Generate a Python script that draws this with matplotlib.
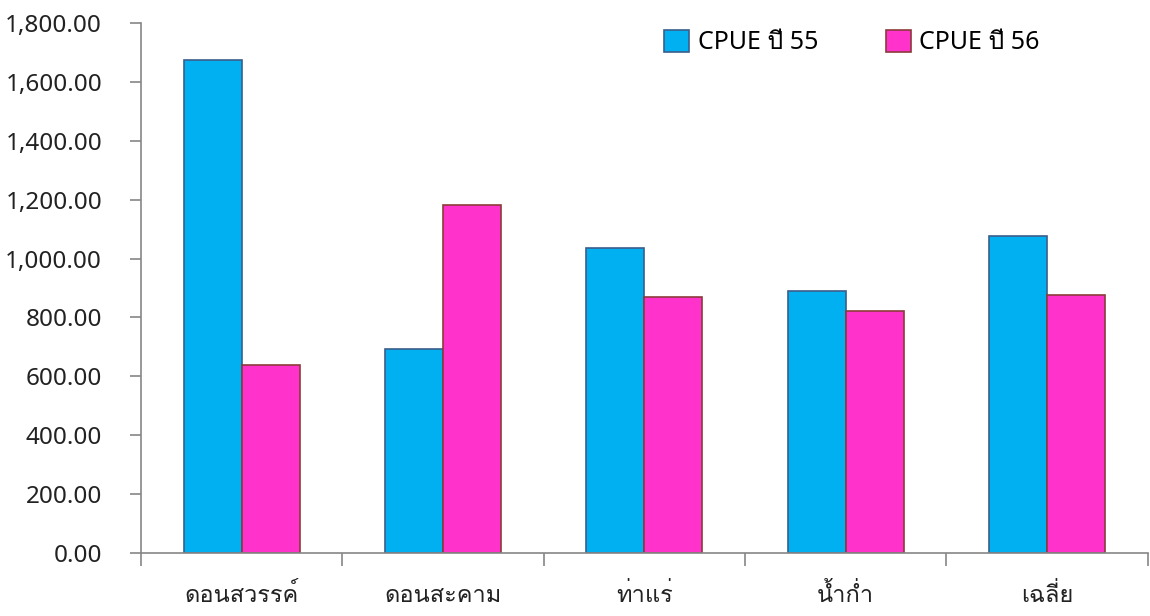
import numpy as np
import matplotlib
matplotlib.use("Agg")
import matplotlib.pyplot as plt
from matplotlib import font_manager
from matplotlib.ft2font import FT2Font
from matplotlib.ticker import FuncFormatter, FixedLocator

# data
categories = ["ดอนสวรรค์", "ดอนสะคาม", "ท่าแร่", "น้ำก่ำ", "เฉลี่ย"]
cpue_55 = [1675, 693, 1035, 890, 1075]
cpue_56 = [638, 1183, 870, 822, 877]
series_labels = ["CPUE ปี 55", "CPUE ปี 56"]
yticks = np.arange(0, 1801, 200)

# find an installed font that has Thai glyphs
thai_font = None
for f in font_manager.fontManager.ttflist:
  try:
    if 0x0E14 in FT2Font(f.fname).get_charmap():
      thai_font = f.name
      break
  except Exception:
    pass
families = ["Noto Sans", "DejaVu Sans"]
if thai_font:
  families = ["Noto Sans", thai_font, "DejaVu Sans"]
plt.rcParams["font.family"] = families

fig = plt.figure(figsize=(11.5, 6.16), dpi=100)
ax = fig.add_axes([0.1226, 0.1023, 0.8754, 0.8604])

x = np.arange(len(categories))
w = 0.288
ax.bar(x - w / 2, cpue_55, w, color="#00B0F0", edgecolor="#3B5E8C", linewidth=1.2, label=series_labels[0])
ax.bar(x + w / 2, cpue_56, w, color="#FF33CC", edgecolor="#8C3A3A", linewidth=1.2, label=series_labels[1])

ax.set_xlim(-0.5, len(categories) - 0.5)
ax.set_ylim(0, 1800)
ax.set_yticks(yticks)
ax.yaxis.set_major_formatter(FuncFormatter(lambda v, p: f"{v:,.2f}"))

ax.set_xticks(x)
ax.set_xticklabels(categories)
ax.xaxis.set_minor_locator(FixedLocator(np.arange(len(categories) + 1) - 0.5))
ax.tick_params(axis="x", which="major", length=0, pad=22, labelsize=17, colors="#222222")
ax.tick_params(axis="x", which="minor", length=9, width=1.2, color="#868686")
ax.tick_params(axis="y", length=8, width=1.2, color="#868686", labelsize=17.5, labelcolor="#222222", pad=20)

for s in ["top", "right"]:
  ax.spines[s].set_visible(False)
for s in ["left", "bottom"]:
  ax.spines[s].set_color("#868686")
  ax.spines[s].set_linewidth(1.2)

ax.legend(loc="upper left", bbox_to_anchor=(0.497, 1.03), ncol=2, frameon=False, fontsize=18,
          handlelength=1.0, handleheight=1.0, handletextpad=0.35, columnspacing=2.7)

fig.savefig("out.png", dpi=100)
